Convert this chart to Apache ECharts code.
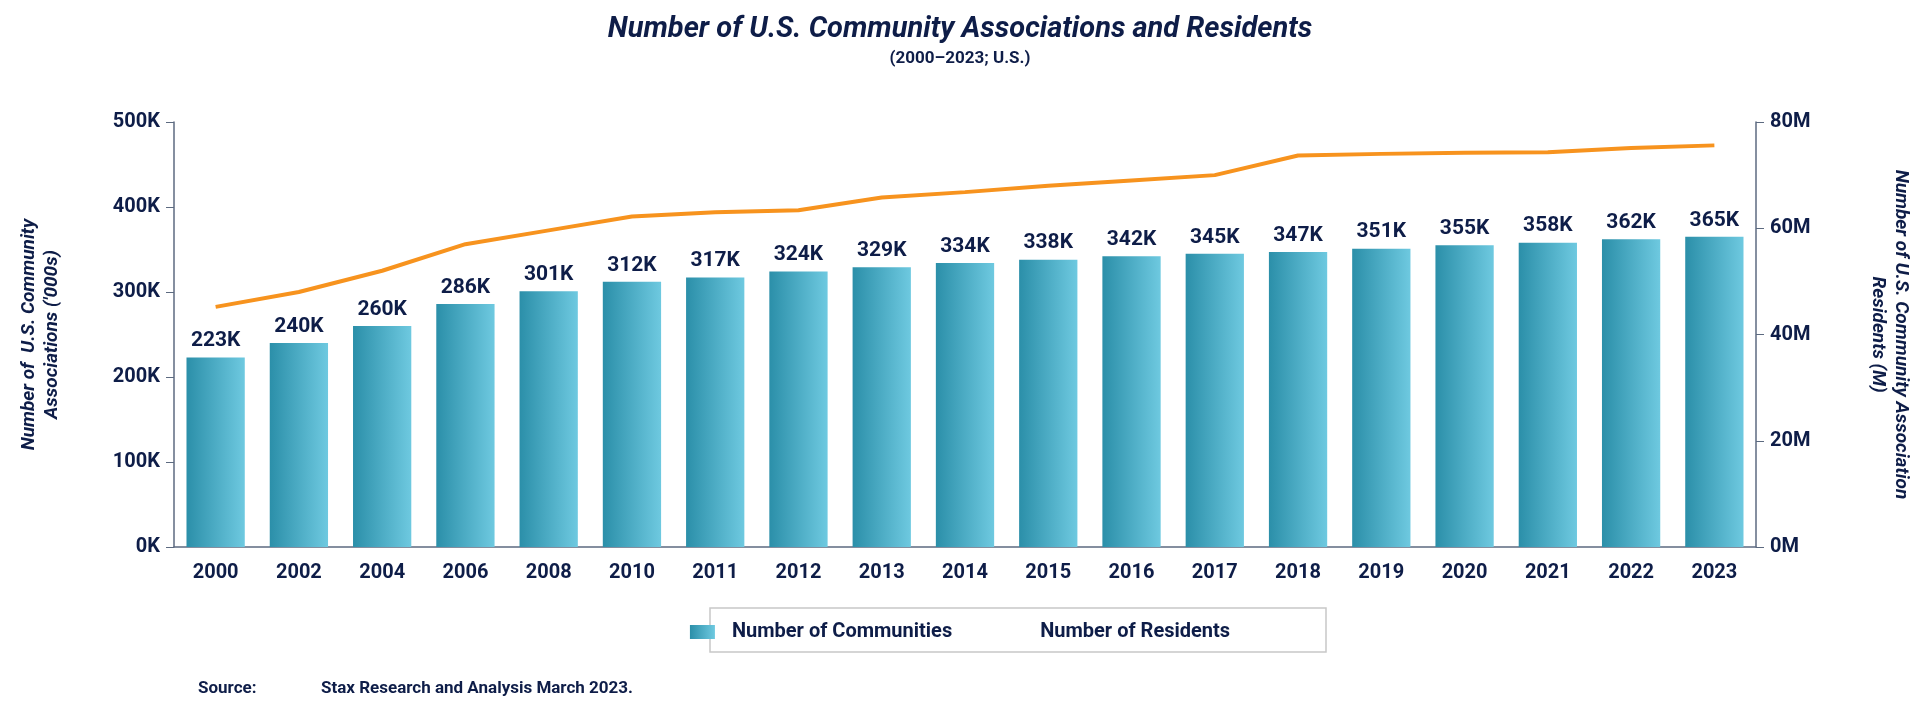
<!DOCTYPE html>
<html>
<head>
<meta charset="utf-8">
<script src="https://cdn.jsdelivr.net/npm/echarts@6/dist/echarts.min.js"></script>
<style>html,body{margin:0;padding:0;background:#fff}#chart{width:1920px;height:712px}</style>
</head>
<body>
<div id="chart"></div>
<script>
const years = ['2000', '2002', '2004', '2006', '2008', '2010', '2011', '2012', '2013', '2014', '2015', '2016', '2017', '2018', '2019', '2020', '2021', '2022', '2023'];
// thousands of associations
const communities = [223, 240, 260, 286, 301, 312, 317, 324, 329, 334, 338, 342, 345, 347, 351, 355, 358, 362, 365];
// millions of residents
const residents = [45.2, 48, 52, 57, 59.6, 62.2, 63, 63.4, 65.8, 66.8, 68, 69, 70, 73.7, 74, 74.2, 74.3, 75.1, 75.6];

const navy = '#0e1d48';
const orange = '#f7931e';
const font = 'Roboto';

const myChart = echarts.init(document.getElementById('chart'));
const barColor = new echarts.graphic.LinearGradient(0, 0, 1, 0, [
  { offset: 0, color: '#2b8fa9' },
  { offset: 1, color: '#6ec9e0' }
]);
let option = {
  textStyle: { fontFamily: font },
  title: [
    {
      text: 'Number of U.S. Community Associations and Residents',
      left: 'center', top: 10,
      textStyle: { color: navy, fontSize: 29, fontWeight: 'bold', fontStyle: 'italic', fontFamily: font }
    },
    {
      text: '(2000–2023; U.S.)',
      left: 'center', top: 45,
      textStyle: { color: navy, fontSize: 17, fontWeight: 'bold', fontFamily: font }
    }
  ],
  graphic: [
    { type: 'text', left: 198, top: 680, style: { text: 'Source:', fill: navy, font: 'bold 17px Roboto' } },
    { type: 'text', left: 321, top: 680, style: { text: 'Stax Research and Analysis March 2023.', fill: navy, font: 'bold 17px Roboto' } },
    { type: 'rect', shape: { x: 710, y: 608, width: 616, height: 44 }, style: { fill: 'none', stroke: '#c8c8c8', lineWidth: 1.5 } }
  ],
  legend: {
    top: 617, left: 'center',
    itemGap: 46,
    textStyle: { color: navy, fontSize: 20, fontWeight: 'bold', fontFamily: font, padding: [0, 0, 0, 12] },
    data: [
      { name: 'Number of Communities', icon: 'rect', itemWidth: 62, itemHeight: 26 },
      { name: 'Number of Residents', icon: 'rect', itemWidth: 30, itemHeight: 4, itemStyle: { color: orange } }
    ]
  },
  grid: { left: 174, right: 138, top: 122, bottom: 165 },
  xAxis: {
    type: 'category',
    data: years,
    axisLine: { lineStyle: { color: '#5c6a80', width: 1.5 } },
    axisTick: { show: false },
    axisLabel: { color: navy, fontSize: 20, fontWeight: 'bold', margin: 16 }
  },
  yAxis: [
    {
      type: 'value', min: 0, max: 500, interval: 100,
      name: "Number of  U.S. Community\nAssociations ('000s)",
      nameLocation: 'middle', nameRotate: 90, nameGap: 110,
      nameTextStyle: { color: navy, fontSize: 19, fontWeight: 'bold', fontStyle: 'italic', lineHeight: 23 },
      axisLine: { show: true, lineStyle: { color: '#5c6a80', width: 1.5 } },
      axisTick: { show: true, length: 8, lineStyle: { color: '#5c6a80' } },
      splitLine: { show: false },
      axisLabel: { color: navy, fontSize: 20, fontWeight: 'bold', margin: 14, formatter: '{value}K' }
    },
    {
      type: 'value', min: 0, max: 80, interval: 20,
      name: 'Number of U.S. Community Association\nResidents (M)',
      nameLocation: 'middle', nameRotate: -90, nameGap: 110,
      nameTextStyle: { color: navy, fontSize: 19, fontWeight: 'bold', fontStyle: 'italic', lineHeight: 23 },
      axisLine: { show: true, lineStyle: { color: '#5c6a80', width: 1.5 } },
      axisTick: { show: true, length: 8, lineStyle: { color: '#5c6a80' } },
      splitLine: { show: false },
      axisLabel: { color: navy, fontSize: 20, fontWeight: 'bold', margin: 14, formatter: '{value}M' }
    }
  ],
  series: [
    {
      name: 'Number of Communities',
      type: 'bar',
      data: communities,
      barCategoryGap: '30%',
      itemStyle: { color: barColor },
      label: { show: true, position: 'top', distance: 6, color: navy, fontSize: 21, fontWeight: 'bold', formatter: '{c}K' }
    },
    {
      name: 'Number of Residents',
      type: 'line',
      yAxisIndex: 1,
      data: residents,
      symbol: 'circle',
      symbolSize: 1,
      showSymbol: true,
      lineStyle: { color: orange, width: 4 },
      itemStyle: { color: orange, opacity: 0 },
      label: {
        show: true, position: 'top', distance: 18, color: orange, fontSize: 21, fontWeight: 'bold',
        formatter: (p) => Math.round(p.value) + 'M'
      },
      labelLayout: { hideOverlap: false }
    }
  ]
};
myChart.setOption(option);
</script>
</body>
</html>
